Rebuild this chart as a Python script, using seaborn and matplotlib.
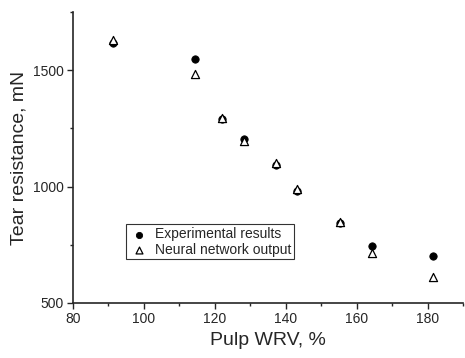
import matplotlib
matplotlib.use("Agg")
import matplotlib.pyplot as plt
import seaborn as sns
import pandas as pd
from matplotlib.ticker import MultipleLocator

wrv = [91.2, 114.3, 122.0, 128.3, 137.3, 143.3, 155.2, 164.4, 181.5]
experimental = [1617, 1548, 1292, 1203, 1092, 980, 845, 743, 701]
neural = [1630, 1482, 1294, 1197, 1100, 990, 847, 715, 611]

sns.set_style("ticks")
plt.rcParams['font.family'] = ['Liberation Sans', 'DejaVu Sans']

df = pd.DataFrame({"wrv": wrv * 2,
                   "tear": experimental + neural,
                   "series": ["Experimental results"] * len(wrv) + ["Neural network output"] * len(wrv)})

fig = plt.figure(figsize=(4.65, 3.58), dpi=100)
ax = fig.add_axes([73/465, 1 - 303/358, 390/465, 291/358])

sns.scatterplot(data=df[df.series == "Experimental results"], x="wrv", y="tear", ax=ax,
                marker="o", color="black", edgecolor="black", s=28, linewidth=0.6,
                label="Experimental results", legend=False)
sns.scatterplot(data=df[df.series == "Neural network output"], x="wrv", y="tear", ax=ax,
                marker="^", facecolor="white", edgecolor="black", s=34, linewidth=0.9,
                label="Neural network output", legend=False)

ax.set_xlim(80, 190)
ax.set_ylim(500, 1750)
ax.xaxis.set_major_locator(MultipleLocator(20))
ax.xaxis.set_minor_locator(MultipleLocator(10))
ax.yaxis.set_major_locator(MultipleLocator(500))
ax.yaxis.set_minor_locator(MultipleLocator(250))
ax.tick_params(which="major", length=4.5, width=1, labelsize=10, direction="out", pad=2)
ax.tick_params(which="minor", length=2.5, width=1, direction="out")
for s in ["top", "right"]:
    ax.spines[s].set_visible(False)
for s in ["left", "bottom"]:
    ax.spines[s].set_linewidth(1.2)

ax.set_xlabel("Pulp WRV, %", fontsize=14, labelpad=4)
ax.set_ylabel("Tear resistance, mN", fontsize=14, labelpad=4)

handles, labels = ax.get_legend_handles_labels()
leg = ax.legend(handles=handles, labels=labels, loc="lower left", bbox_to_anchor=(0.135, 0.15),
                frameon=True, fancybox=False, edgecolor="black", fontsize=10,
                handletextpad=0.4, borderpad=0.2, labelspacing=0.1, handlelength=1.5,
                borderaxespad=0, markerscale=0.85)
leg.get_frame().set_linewidth(0.8)

fig.savefig("out.png", dpi=100)
